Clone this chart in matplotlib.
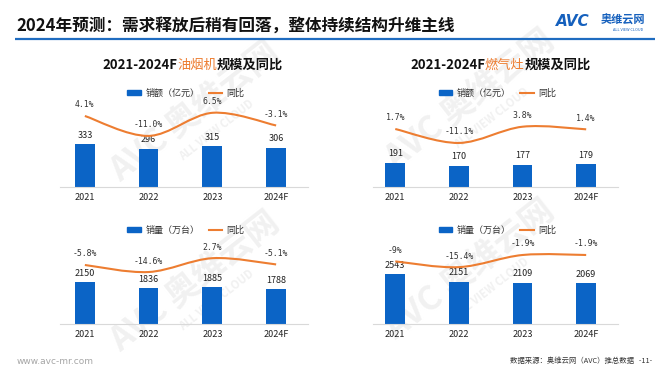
import numpy as np
import matplotlib
matplotlib.use('Agg')
import matplotlib.pyplot as plt
from matplotlib.path import Path
from matplotlib.patches import PathPatch, Patch
from matplotlib.lines import Line2D

plt.rcParams['font.family'] = ['Noto Sans CJK SC', 'DejaVu Sans']

# data
years = ['2021', '2022', '2023', '2024F']
hood_sales = [333, 296, 315, 306]
hood_sales_yoy = ['4.1%', '-11.0%', '6.5%', '-3.1%']
stove_sales = [191, 170, 177, 179]
stove_sales_yoy = ['1.7%', '-11.1%', '3.8%', '1.4%']
hood_units = [2150, 1836, 1885, 1788]
hood_units_yoy = ['-5.8%', '-14.6%', '2.7%', '-5.1%']
stove_units = [2543, 2151, 2109, 2069]
stove_units_yoy = ['-9%', '-15.4%', '-1.9%', '-1.9%']

BLUE = '#0b64c6'
ORANGE = '#ed7d31'
W, H = 669, 376


def rect(x0, y0, x1, y1):
    # pixel box (top-left origin) -> figure fraction
    return [x0 / W, 1 - y1 / H, (x1 - x0) / W, (y1 - y0) / H]


def smooth_path(xs, ys):
    '''Bezier path through the points (Excel-like smoothed line)'''
    pts = np.column_stack([xs, ys]).astype(float)
    ext = np.vstack([pts[0], pts, pts[-1]])
    verts = [pts[0]]
    codes = [Path.MOVETO]
    for i in range(len(pts) - 1):
        p0, p1, p2, p3 = ext[i], ext[i + 1], ext[i + 2], ext[i + 3]
        verts += [p1 + (p2 - p0) / 6, p2 - (p3 - p1) / 6, p2]
        codes += [Path.CURVE4] * 3
    return Path(verts, codes)


fig = plt.figure(figsize=(W / 100, H / 100), dpi=100)

# background layer in pixel coords
bg = fig.add_axes([0, 0, 1, 1])
bg.set_xlim(0, W)
bg.set_ylim(H, 0)
bg.axis('off')

# watermarks
for wx, wy in [(195, 112), (470, 100), (195, 282), (470, 270)]:
    bg.text(wx, wy, 'AVC 奥维云网', rotation=38, fontsize=24, fontweight='bold',
            color='#f1f1f1', ha='center', va='center', zorder=0)
    bg.text(wx + 22, wy + 18, 'ALL VIEW CLOUD', rotation=38, fontsize=8, fontweight='bold',
            color='#f1f1f1', ha='center', va='center', zorder=0)

# header
bg.text(16, 26, '2024年预测：需求释放后稍有回落，整体持续结构升维主线', fontsize=12,
        fontweight='bold', color='#111111', va='center', ha='left')
bg.plot([15, 655], [38.5, 38.5], color='#1f6cc0', lw=1.6, solid_capstyle='butt')
bg.text(556, 22, 'AVC', fontsize=11, fontweight='heavy', style='italic', color='#1560bd',
        va='center', ha='left', family='DejaVu Sans')
bg.text(601, 20, '奥维云网', fontsize=8, fontweight='bold', color='#1560bd', va='center', ha='left')
bg.text(628, 30, 'ALL VIEW CLOUD', fontsize=2.8, color='#1560bd', va='center', ha='center')

# footer
bg.text(17, 361, 'www.avc-mr.com', fontsize=6.5, color='#a6a6a6', va='center', ha='left',
        family='DejaVu Sans')
bg.text(652, 361, '数据来源：奥维云网（AVC）推总数据   -11-', fontsize=5.3, color='#333333',
        va='center', ha='right')

panels = [
    # left, right, baseline, title, legend, bars, yoy, bar ylim, line ylim, xlim left
    (60, 308, 187, '油烟机', '销额（亿元）', hood_sales, hood_sales_yoy, 674, (-49.7, 16.2), -0.39),
    (373, 618, 187, '燃气灶', '销额（亿元）', stove_sales, stove_sales_yoy, 692, (-51.5, 28.3), -0.35),
    (60, 308, 324, None, '销量（万台）', hood_units, hood_units_yoy, 4454, (-79.6, 29.2), -0.39),
    (373, 618, 324, None, '销量（万台）', stove_units, stove_units_yoy, 4428, (-78.6, 18.1), -0.35),
]

x = np.arange(len(years))
for left, right, base, name, leg_label, bars, yoy, bar_top, line_lim, xl in panels:
    ax = fig.add_axes(rect(left, base - 87, right, base))
    ax.patch.set_visible(False)
    ax.bar(x, bars, width=0.31, color=BLUE, zorder=2)
    ax.set_xlim(xl, 3.5)
    ax.set_ylim(0, bar_top)
    for s in ['top', 'left', 'right']:
        ax.spines[s].set_visible(False)
    ax.spines['bottom'].set_color('#d9d9d9')
    ax.spines['bottom'].set_linewidth(0.8)
    ax.set_yticks([])
    ax.set_xticks(x, years)
    ax.tick_params(axis='x', length=0, pad=4, labelsize=6.5, colors='#222222')
    for xi, v in zip(x, bars):
        ax.annotate(str(v), (xi, v), xytext=(0, 9), textcoords='offset pixels',
                    ha='center', va='center', fontsize=6.5, color='#222222')

    lx = ax.twinx()
    lx.set_ylim(*line_lim)
    lx.axis('off')
    vals = [float(s.rstrip('%')) for s in yoy]
    lx.add_patch(PathPatch(smooth_path(x, vals), fill=False, edgecolor=ORANGE, lw=1.5, zorder=3))
    for xi, v, s in zip(x, vals, yoy):
        lx.annotate(s, (xi, v), xytext=(0, 11), textcoords='offset pixels',
                    ha='center', va='center', fontsize=5.9, color='#333333',
                    family='DejaVu Sans Mono')

    # legend
    handles = [Patch(color=BLUE), Line2D([], [], color=ORANGE, lw=1.5)]
    fig.legend(handles, [leg_label, '同比'], loc='center', ncol=2, frameon=False,
               bbox_to_anchor=((left + right) / 2 / W + 2 / W, 1 - (base - 94) / H),
               fontsize=6.5, handlelength=1.5, handleheight=0.6, columnspacing=1.0,
               handletextpad=0.5, labelcolor='#333333')

    # panel title with coloured product name
    if name:
        t0 = bg.text(left + 42 if left < 300 else left + 37, 65, '2021-2024F', fontsize=9.5,
                     fontweight='bold', va='center', ha='left', color='#111111')
        t1 = bg.annotate(name, xy=(1, 0.5), xycoords=t0, va='center', ha='left',
                         fontsize=9.5, color=ORANGE)
        bg.annotate('规模及同比', xy=(1, 0.5), xycoords=t1, va='center', ha='left',
                    fontsize=9.5, fontweight='bold', color='#111111')

fig.savefig('out.png', dpi=100)
